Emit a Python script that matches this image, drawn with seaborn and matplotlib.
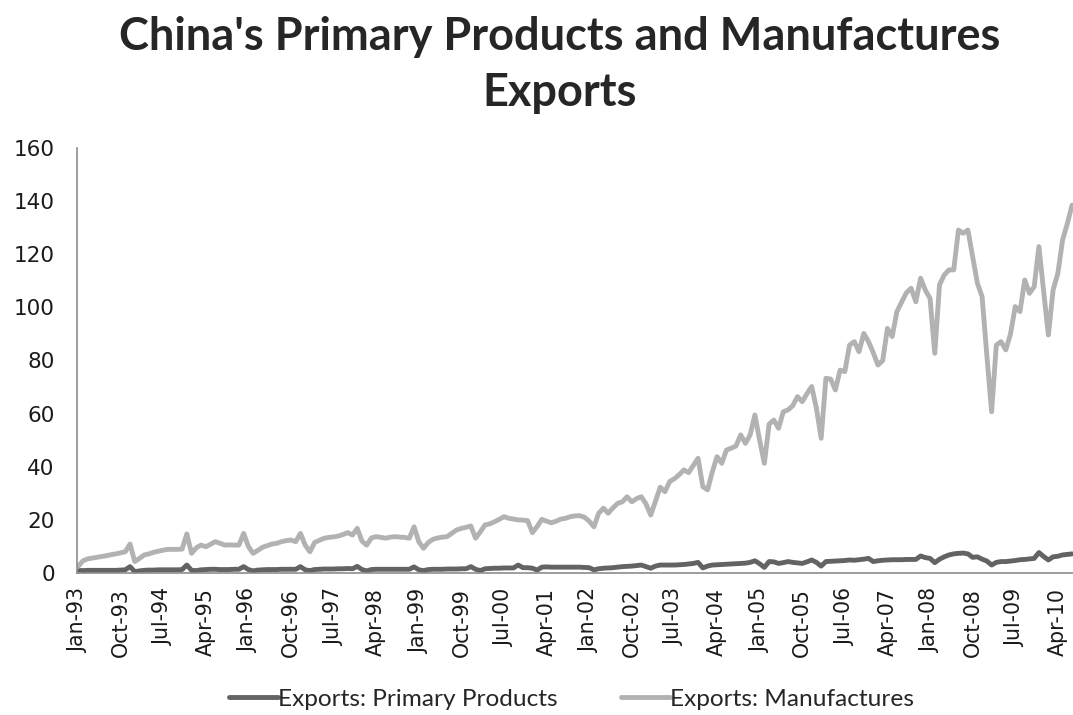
import numpy as np
import matplotlib
matplotlib.use('Agg')
import matplotlib.pyplot as plt
import seaborn as sns
import pandas as pd

# monthly exports, Jan-93 .. Jul-10
manufactures = [
    2.4, 4.5, 5.3, 5.6, 5.9, 6.2, 6.5, 6.9, 7.2, 7.6, 8.0, 10.9,          # 1993
    4.3, 5.5, 6.8, 7.2, 7.8, 8.2, 8.6, 8.9, 8.9, 8.9, 9.0, 14.7,          # 1994
    7.4, 9.5, 10.5, 9.9, 10.8, 11.8, 11.2, 10.5, 10.6, 10.5, 10.5, 14.9,  # 1995
    10.0, 7.4, 8.5, 9.7, 10.3, 10.9, 11.2, 11.8, 12.2, 12.4, 11.8, 14.9,  # 1996
    10.5, 8.0, 11.5, 12.3, 13.1, 13.4, 13.6, 13.9, 14.5, 15.2, 14.3, 16.8,  # 1997
    12.0, 10.5, 13.2, 13.7, 13.4, 13.1, 13.5, 13.7, 13.5, 13.4, 13.1, 17.4,  # 1998
    11.8, 9.3, 11.5, 12.7, 13.2, 13.5, 13.7, 15.0, 16.2, 16.8, 17.2, 17.7,  # 1999
    13.1, 15.5, 18.1, 18.5, 19.3, 20.2, 21.2, 20.6, 20.3, 20.0, 19.9, 19.7,  # 2000
    15.2, 17.5, 20.2, 19.5, 18.9, 19.5, 20.3, 20.6, 21.2, 21.5, 21.6, 21.0,  # 2001
    19.5, 17.4, 22.5, 24.4, 22.5, 24.5, 26.2, 26.8, 28.7, 26.8, 28.0, 28.7,  # 2002
    26.0, 21.8, 27.0, 32.3, 30.6, 34.4, 35.5, 37.0, 38.8, 37.8, 40.5, 43.2,  # 2003
    32.5, 31.3, 38.0, 43.8, 41.3, 46.3, 47.0, 47.8, 52.0, 48.8, 52.0, 59.5,  # 2004
    50.0, 41.3, 56.0, 57.6, 54.5, 60.7, 61.4, 63.0, 66.4, 64.5, 67.5, 70.2,  # 2005
    62.0, 50.7, 73.3, 73.0, 68.9, 76.4, 75.8, 85.8, 87.1, 83.3, 90.2, 87.1,  # 2006
    83.0, 78.3, 80.0, 92.1, 89.0, 98.4, 102.0, 105.5, 107.2, 102.1, 111.0, 106.5,  # 2007
    103.4, 82.7, 108.5, 112.2, 114.1, 114.1, 129.1, 127.9, 129.1, 119.0, 109.1, 104.0,  # 2008
    82.0, 60.7, 85.8, 87.1, 84.0, 90.0, 100.3, 98.4, 110.3, 105.3, 107.8, 122.9,  # 2009
    106.0, 89.6, 106.6, 112.8, 125.4, 131.5, 138.5,  # 2010
]

primary = [
    1.0, 0.9, 1.0, 1.0, 1.0, 1.0, 1.0, 1.0, 1.0, 1.1, 1.2, 2.4,
    0.5, 0.8, 1.0, 1.1, 1.1, 1.2, 1.2, 1.2, 1.2, 1.2, 1.3, 3.0,
    1.0, 0.9, 1.2, 1.3, 1.4, 1.4, 1.3, 1.3, 1.3, 1.4, 1.4, 2.4,
    1.3, 0.8, 1.1, 1.2, 1.3, 1.3, 1.3, 1.4, 1.4, 1.4, 1.4, 2.4,
    1.2, 0.9, 1.3, 1.4, 1.5, 1.5, 1.5, 1.6, 1.6, 1.7, 1.6, 2.5,
    1.3, 0.8, 1.3, 1.4, 1.4, 1.4, 1.4, 1.4, 1.4, 1.4, 1.4, 2.3,
    1.2, 0.9, 1.3, 1.4, 1.4, 1.4, 1.5, 1.5, 1.5, 1.6, 1.6, 2.4,
    1.4, 0.9, 1.6, 1.7, 1.8, 1.8, 1.9, 1.9, 1.9, 3.0, 2.0, 2.0,
    1.8, 1.1, 2.2, 2.3, 2.2, 2.2, 2.2, 2.2, 2.2, 2.2, 2.2, 2.1,
    2.0, 1.2, 1.6, 1.8, 1.9, 2.0, 2.2, 2.4, 2.5, 2.6, 2.8, 3.0,
    2.4, 1.8, 2.6, 3.0, 3.0, 3.0, 3.0, 3.1, 3.2, 3.4, 3.6, 4.0,
    1.9, 2.6, 3.0, 3.1, 3.2, 3.3, 3.4, 3.5, 3.6, 3.7, 4.0, 4.6,
    3.5, 2.1, 4.3, 4.2, 3.6, 3.9, 4.3, 4.0, 3.8, 3.6, 4.2, 4.9,
    4.0, 2.6, 4.3, 4.4, 4.5, 4.6, 4.7, 4.9, 4.8, 5.0, 5.2, 5.5,
    4.3, 4.6, 4.8, 4.9, 5.0, 5.0, 5.0, 5.1, 5.1, 5.1, 6.4, 5.8,
    5.5, 3.9, 5.2, 6.1, 6.8, 7.2, 7.4, 7.5, 7.2, 5.9, 6.1, 5.2,
    4.5, 3.0, 4.0, 4.3, 4.3, 4.5, 4.7, 5.0, 5.1, 5.3, 5.5, 7.7,
    6.2, 4.9, 6.1, 6.3, 6.8, 7.0, 7.2,
]

months = pd.date_range('1993-01-01', periods=len(manufactures), freq='MS')
series_names = ['Exports: Primary Products', 'Exports: Manufactures']
colors = ['#636363', '#b2b2b2']

df = pd.DataFrame({'idx': np.arange(len(months)),
                   series_names[0]: primary,
                   series_names[1]: manufactures})
long = df.melt(id_vars='idx', var_name='series', value_name='value')

sns.set_style('white')
plt.rcParams['font.family'] = ['DejaVu Sans']

fig = plt.figure(figsize=(10.73, 7.15), dpi=100)
ax = fig.add_axes([77 / 1073, 1 - 573 / 715, 1 - 77 / 1073, (573 - 148) / 715])

sns.lineplot(data=long, x='idx', y='value', hue='series', hue_order=series_names,
             palette=colors, linewidth=3.5, ax=ax, legend=False)

ax.set_xlim(-0.2, 210.2)
ax.set_ylim(0, 160)
ax.set_yticks(range(0, 161, 20))
ax.tick_params(axis='y', labelsize=15.5, length=0, pad=16, labelcolor='#1a1a1a')
tick_idx = list(range(0, len(months), 9))
ax.set_xticks(tick_idx)
ax.set_xticklabels([months[i].strftime('%b-%y') for i in tick_idx], rotation=90)
ax.tick_params(axis='x', labelsize=14.8, length=0, pad=11, labelcolor='#1a1a1a')
ax.set_xlabel('')
ax.set_ylabel('')
sns.despine(ax=ax, top=True, right=True)
for s in ['left', 'bottom']:
    ax.spines[s].set_color('#8c8c8c')
    ax.spines[s].set_linewidth(1.2)

fig.text(0.522, 0.978, "China's Primary Products and Manufactures\nExports",
         ha='center', va='top', fontsize=32.5, fontweight='bold',
         family=['Lato', 'DejaVu Sans'], linespacing=1.42)

handles = [plt.Line2D([], [], color=c, lw=3.5) for c in colors]
fig.legend(handles, series_names, loc='center', bbox_to_anchor=(0.533, 0.022),
           ncol=2, frameon=False, handlelength=2.0, handletextpad=0.0,
           columnspacing=2.6, prop={'family': ['Lato', 'DejaVu Sans'], 'size': 17.6})

fig.savefig('out.png', dpi=100)
